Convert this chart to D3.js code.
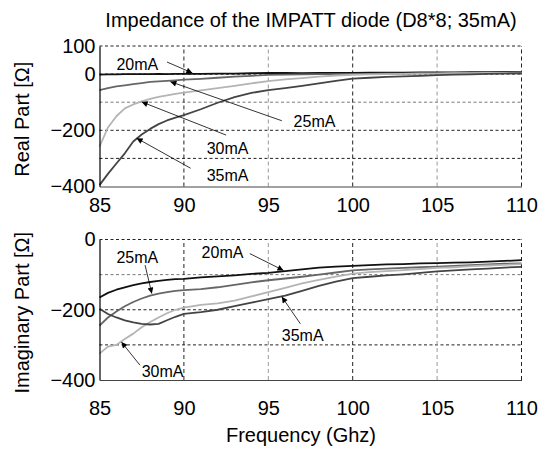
<!DOCTYPE html>
<html>
<head>
<meta charset="utf-8">
<script src="https://cdn.jsdelivr.net/npm/d3@7"></script>
<style>
  body { margin: 0; background: #fff; }
  svg { display: block; font-family: "Liberation Sans", Arial, sans-serif; }
</style>
</head>
<body>
<svg id="chart"></svg>
<script>
// frequency axis (GHz)
const freq = [85, 85.5, 86, 86.5, 87, 87.5, 88, 88.5, 89, 89.5, 90, 91, 92, 93, 94, 95, 96, 97, 98, 99, 100, 101, 102, 103, 104, 105, 106, 107, 108, 109, 110]

// real part [ohm]
const re20 = [-2, -1, -1, 0, 0, 0, 0, 1, 0, 1, 1, 1, 2, 2, 3, 4, 4, 3, 4, 4, 4, 5, 5, 5, 6, 6, 6, 7, 7, 8, 8]
const re25 = [-57, -50, -44, -40, -36, -32, -28, -26, -24, -22, -20, -17, -13, -9, -6, -3, -2, -1, 0, 0, 1, 1, 2, 2, 3, 3, 4, 4, 5, 6, 6]
const re30 = [-258, -190, -150, -122, -108, -97, -88, -81, -76, -70, -66, -58, -50, -42, -33, -25, -19, -14, -9, -5, -3, -1, 0, 1, 2, 2, 3, 3, 4, 4, 5]
const re35 = [-395, -355, -318, -282, -240, -215, -195, -178, -165, -155, -146, -125, -102, -82, -67, -57, -50, -42, -33, -24, -16, -13, -10, -8, -6, -4, -2, -1, 1, 2, 3]

// imaginary part [ohm]
const im20 = [-165, -152, -143, -136, -130, -125, -121, -118, -115, -113, -112, -108, -105, -102, -98, -95, -90, -85, -80, -77, -75, -73, -71, -70, -68, -67, -66, -65, -63, -61, -59]
const im25 = [-245, -222, -205, -190, -178, -168, -160, -154, -150, -146, -144, -141, -136, -129, -122, -116, -111, -106, -100, -94, -88, -85, -83, -81, -79, -77, -75, -73, -71, -69, -68]
const im30 = [-325, -305, -300, -283, -268, -250, -235, -222, -210, -200, -194, -186, -182, -174, -162, -150, -138, -125, -115, -106, -97, -93, -90, -87, -84, -81, -79, -76, -74, -72, -70]
const im35 = [-197, -212, -222, -230, -236, -240, -242, -240, -230, -220, -212, -207, -200, -190, -180, -170, -160, -146, -132, -120, -110, -106, -102, -99, -95, -91, -88, -85, -83, -80, -78]

const currents = ["20mA", "25mA", "30mA", "35mA"]
const colors = ["#111", "#666", "#b4b4b4", "#444"]
const xTicks = [85, 90, 95, 100, 105, 110]
const reTicks = [100, 0, -200, -400]
const imTicks = [0, -200, -400]

// annotations: label position and arrow [from, to] in data units
const reNotes = [
  {text: "20mA", at: [86.0, 35], from: [89.0, 43], to: [90.5, 4]},
  {text: "25mA", at: [96.5, -169], from: [95.8, -166], to: [89.2, -27]},
  {text: "30mA", at: [91.35, -264], from: [92.5, -217], to: [87.5, -99]},
  {text: "35mA", at: [91.35, -359], from: [90.4, -335], to: [87.2, -228]}
]
const imNotes = [
  {text: "25mA", at: [86.0, -51], from: [87.7, -73], to: [88.1, -154]},
  {text: "20mA", at: [91.05, -37], from: [93.9, -40], to: [95.9, -88]},
  {text: "35mA", at: [95.8, -274], from: [96.9, -240], to: [95.8, -163]},
  {text: "30mA", at: [87.5, -376], from: [87.4, -358], to: [86.3, -292]}
]

const width = 541
const height = 450

const x = d3.scaleLinear().domain([85, 110]).range([99.5, 521.5])
const yRe = d3.scaleLinear().domain([-400, 100]).range([186.5, 46])
const yIm = d3.scaleLinear().domain([-400, 0]).range([380, 239.5])

const svg = d3.select("#chart")
  .attr("width", width)
  .attr("height", height)
  .attr("viewBox", [0, 0, width, height])

svg.append("defs").append("marker")
  .attr("id", "arrow")
  .attr("viewBox", "0 0 10 10")
  .attr("refX", 10).attr("refY", 5)
  .attr("markerWidth", 8).attr("markerHeight", 6)
  .attr("markerUnits", "userSpaceOnUse")
  .attr("orient", "auto")
  .append("path")
  .attr("d", "M0,0L10,5L0,10z")
  .attr("fill", "#000")

// title
svg.append("text")
  .attr("x", 311)
  .attr("y", 27)
  .attr("text-anchor", "middle")
  .attr("font-size", 20)
  .text("Impedance of the IMPATT diode (D8*8; 35mA)")

function panel(y, yTicks, gridVals, series, notes, label, xPad) {
  const g = svg.append("g")
  const [y0, y1] = y.domain()

  // horizontal grid
  g.append("g").selectAll("line")
    .data(gridVals)
    .join("line")
    .attr("x1", x(85)).attr("x2", x(110))
    .attr("y1", d => y(d)).attr("y2", d => y(d))
    .attr("stroke", d => d === -100 ? "#777" : "#222")
    .attr("stroke-width", 1)
    .attr("stroke-dasharray", "3,2.5")

  // vertical grid
  g.append("g").selectAll("line")
    .data([90, 95, 100, 105, 110])
    .join("line")
    .attr("x1", d => x(d)).attr("x2", d => x(d))
    .attr("y1", y(y0)).attr("y2", y(y1))
    .attr("stroke", d => (d === 95 || d === 105) ? "#999" : "#222")
    .attr("stroke-width", 1)
    .attr("stroke-dasharray", "4,3")

  // curves
  const line = d3.line().x((d, i) => x(freq[i])).y(d => y(d))
  g.append("g").selectAll("path")
    .data(series)
    .join("path")
    .attr("d", d => line(d))
    .attr("fill", "none")
    .attr("stroke", (d, i) => colors[i])
    .attr("stroke-width", 1.8)
    .attr("stroke-linejoin", "round")

  // axes (left and bottom solid)
  g.append("g")
    .attr("transform", `translate(${x(85)},0)`)
    .call(d3.axisLeft(y).tickValues(yTicks).tickSize(0).tickPadding(4).tickFormat(d3.format("d")))
    .call(a => a.select(".domain").attr("stroke", "#000").attr("stroke-width", 1.2))
    .call(a => a.selectAll("text").attr("font-size", 20).attr("fill", "#000").attr("font-family", null))

  g.append("g")
    .attr("transform", `translate(0,${y(y0)})`)
    .call(d3.axisBottom(x).tickValues(xTicks).tickSize(0).tickPadding(xPad).tickFormat(d3.format("d")))
    .call(a => a.select(".domain").attr("stroke", "#444").attr("stroke-width", 1.2))
    .call(a => a.selectAll("text").attr("font-size", 20).attr("fill", "#000").attr("font-family", null))

  // y label
  g.append("text")
    .attr("transform", `translate(29,${(y(y0) + y(y1)) / 2 + 3}) rotate(-90)`)
    .attr("text-anchor", "middle")
    .attr("font-size", 20)
    .text(label)

  // annotations
  g.append("g").selectAll("line")
    .data(notes)
    .join("line")
    .attr("x1", d => x(d.from[0])).attr("y1", d => y(d.from[1]))
    .attr("x2", d => x(d.to[0])).attr("y2", d => y(d.to[1]))
    .attr("stroke", "#000")
    .attr("stroke-width", 0.8)
    .attr("marker-end", "url(#arrow)")

  g.append("g").selectAll("text")
    .data(notes)
    .join("text")
    .attr("x", d => x(d.at[0])).attr("y", d => y(d.at[1]))
    .attr("dy", "0.35em")
    .attr("font-size", 16)
    .text(d => d.text)
}

panel(yRe, reTicks, [100, 0, -100, -200, -300], [re20, re25, re30, re35], reNotes, "Real Part [Ω]", 11)
panel(yIm, imTicks, [0, -100, -200, -300], [im20, im25, im30, im35], imNotes, "Imaginary Part [Ω]", 21)

svg.append("text")
  .attr("x", 301)
  .attr("y", 442)
  .attr("text-anchor", "middle")
  .attr("font-size", 20)
  .text("Frequency (Ghz)")
</script>
</body>
</html>
